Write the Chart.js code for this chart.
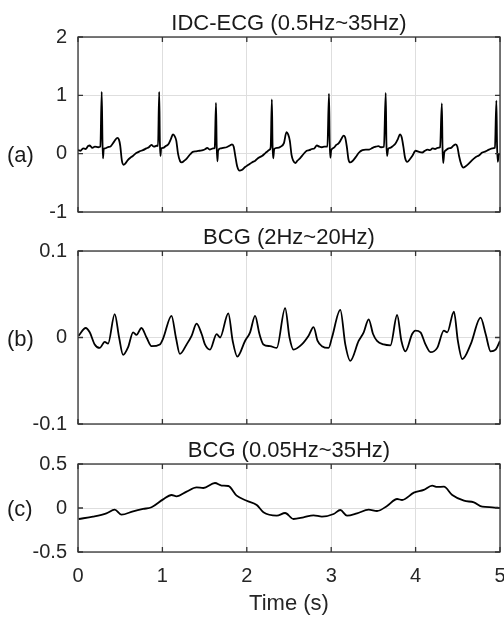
<!DOCTYPE html>
<html>
<head>
<meta charset="utf-8">
<script src="https://cdn.jsdelivr.net/npm/chart.js@4.4.1/dist/chart.umd.min.js"></script>
<style>
  body { margin: 0; background: #fff; }
  .panel { position: absolute; left: 0; top: 0; width: 504px; height: 621px; }
</style>
</head>
<body>
<div class="panel"><canvas id="ecg-chart"></canvas></div>
<div class="panel"><canvas id="bcg-chart"></canvas></div>
<div class="panel"><canvas id="bcg-low-chart"></canvas></div>
<script>
// x axis (seconds)
const timeTicks = [0, 1, 2, 3, 4, 5];

// (a) IDC-ECG 0.5-35 Hz
const ecgTicks = [-1, 0, 1, 2];
const ecgTime = [
    0.00, 0.03, 0.06, 0.09, 0.12, 0.14, 0.17, 0.20, 0.24, 0.265, 0.281, 0.29, 0.296, 0.305, 0.32, 0.35, 0.39, 0.43, 0.465, 0.485,
    0.50, 0.52, 0.54, 0.56, 0.59, 0.62, 0.65, 0.69, 0.73, 0.77, 0.81, 0.84, 0.87, 0.90, 0.94, 0.948, 0.962, 0.97, 0.977, 0.985,
    1.01, 1.04, 1.07, 1.10, 1.125, 1.145, 1.165, 1.185, 1.21, 1.23, 1.26, 1.29, 1.33, 1.36, 1.40, 1.44, 1.48, 1.51, 1.53, 1.56,
    1.60, 1.62, 1.635, 1.643, 1.652, 1.66, 1.69, 1.72, 1.76, 1.80, 1.825, 1.845, 1.865, 1.885, 1.915, 1.94, 1.98, 2.02, 2.06, 2.10,
    2.14, 2.18, 2.22, 2.25, 2.27, 2.283, 2.297, 2.305, 2.313, 2.325, 2.36, 2.40, 2.44, 2.47, 2.49, 2.51, 2.53, 2.55, 2.575, 2.60,
    2.63, 2.67, 2.71, 2.74, 2.77, 2.80, 2.83, 2.86, 2.89, 2.92, 2.955, 2.974, 2.982, 2.99, 3.00, 3.03, 3.06, 3.09, 3.12, 3.145,
    3.165, 3.185, 3.205, 3.225, 3.25, 3.29, 3.33, 3.37, 3.41, 3.45, 3.49, 3.53, 3.56, 3.59, 3.625, 3.646, 3.654, 3.662, 3.675, 3.70,
    3.73, 3.76, 3.79, 3.815, 3.835, 3.855, 3.875, 3.90, 3.93, 3.96, 4.00, 4.04, 4.08, 4.11, 4.14, 4.17, 4.20, 4.23, 4.26, 4.29,
    4.311, 4.319, 4.327, 4.34, 4.36, 4.39, 4.42, 4.45, 4.475, 4.495, 4.515, 4.54, 4.565, 4.59, 4.63, 4.67, 4.71, 4.75, 4.79, 4.83,
    4.87, 4.91, 4.94, 4.957, 4.965, 4.974, 4.985, 5.00
];
const ecgValue = [
    0.06, 0.05, 0.09, 0.08, 0.13, 0.14, 0.10, 0.12, 0.11, 0.12, 1.06, 0.20, -0.08, 0.08, 0.09, 0.11, 0.13, 0.21, 0.27, 0.24,
    0.14, -0.12, -0.19, -0.17, -0.11, -0.07, -0.04, 0.01, 0.04, 0.06, 0.09, 0.11, 0.15, 0.12, 0.14, 0.13, 1.06, 0.20, -0.04, 0.09,
    0.10, 0.13, 0.16, 0.25, 0.33, 0.30, 0.22, 0.00, -0.13, -0.15, -0.12, -0.08, -0.01, 0.03, 0.04, 0.05, 0.06, 0.08, 0.10, 0.07,
    0.09, 0.10, 0.87, 0.15, -0.13, 0.05, 0.09, 0.10, 0.11, 0.14, 0.16, 0.12, -0.05, -0.21, -0.29, -0.28, -0.23, -0.19, -0.15, -0.12,
    -0.07, -0.04, 0.01, 0.045, 0.07, 0.11, 0.93, 0.15, -0.08, 0.08, 0.10, 0.12, 0.18, 0.37, 0.33, 0.22, -0.02, -0.12, -0.16, -0.12,
    -0.08, -0.01, 0.05, 0.06, 0.08, 0.09, 0.14, 0.12, 0.11, 0.12, 0.12, 1.03, 0.20, -0.07, 0.06, 0.10, 0.15, 0.18, 0.25, 0.31,
    0.28, 0.12, -0.10, -0.15, -0.13, -0.06, 0.02, 0.06, 0.07, 0.07, 0.10, 0.12, 0.13, 0.11, 0.12, 1.04, 0.20, -0.04, 0.08, 0.10,
    0.13, 0.17, 0.25, 0.33, 0.28, 0.12, -0.07, -0.14, -0.10, -0.04, 0.05, 0.03, 0.02, 0.05, 0.07, 0.06, 0.09, 0.08, 0.10, 0.11,
    0.86, 0.10, -0.16, 0.02, 0.06, 0.09, 0.10, 0.14, 0.16, 0.12, -0.04, -0.18, -0.24, -0.22, -0.17, -0.11, -0.06, -0.03, 0.02, 0.04,
    0.07, 0.09, 0.10, 0.91, 0.15, -0.14, -0.02, 0.00
];

// (b) BCG 2-20 Hz
const bcgTicks = [-0.1, 0, 0.1];
const bcgTime = [
    0.008, 0.091, 0.139, 0.198, 0.257, 0.317, 0.356, 0.435, 0.487, 0.534, 0.594, 0.653, 0.693, 0.752, 0.812, 0.871, 0.970, 1.009, 1.108, 1.160,
    1.207, 1.287, 1.346, 1.405, 1.465, 1.504, 1.564, 1.643, 1.683, 1.781, 1.833, 1.888, 1.979, 2.039, 2.098, 2.150, 2.197, 2.276, 2.355, 2.454,
    2.506, 2.553, 2.652, 2.732, 2.791, 2.839, 2.890, 2.969, 3.009, 3.108, 3.167, 3.226, 3.325, 3.385, 3.444, 3.496, 3.543, 3.622, 3.702, 3.781,
    3.832, 3.880, 3.959, 3.998, 4.058, 4.117, 4.177, 4.256, 4.335, 4.375, 4.454, 4.501, 4.553, 4.652, 4.770, 4.830, 4.889, 4.948, 5.000
];
const bcgValue = [
    0.002, 0.011, 0.006, -0.008, -0.012, -0.005, -0.007, 0.027, 0.000, -0.020, -0.011, 0.006, 0.003, 0.011, 0.000, -0.010, -0.008, -0.001, 0.025, 0.000,
    -0.019, -0.008, 0.002, 0.016, 0.004, -0.008, -0.014, 0.004, 0.000, 0.028, -0.004, -0.022, -0.004, 0.006, 0.025, 0.004, -0.008, -0.010, -0.012, 0.034,
    0.000, -0.014, -0.008, 0.002, 0.012, -0.004, -0.010, -0.012, 0.000, 0.032, -0.008, -0.027, -0.004, 0.006, 0.021, 0.004, -0.004, -0.008, -0.009, 0.026,
    -0.004, -0.016, 0.004, 0.008, 0.006, -0.008, -0.017, -0.012, 0.008, 0.006, 0.030, -0.004, -0.025, -0.008, 0.023, 0.004, -0.016, -0.014, -0.004
];

// (c) BCG 0.05-35 Hz
const bcgLowTicks = [-0.5, 0, 0.5];
const bcgLowTime = [
    0.008, 0.178, 0.336, 0.435, 0.515, 0.653, 0.772, 0.871, 1.009, 1.108, 1.168, 1.287, 1.405, 1.485, 1.623, 1.702, 1.781, 1.880, 1.999, 2.118,
    2.197, 2.355, 2.454, 2.553, 2.672, 2.791, 2.890, 3.029, 3.108, 3.187, 3.306, 3.444, 3.543, 3.662, 3.781, 3.840, 3.979, 4.097, 4.196, 4.256,
    4.335, 4.434, 4.573, 4.691, 4.790, 4.909, 5.000
];
const bcgLowValue = [
    -0.125, -0.098, -0.061, -0.019, -0.076, -0.038, -0.011, 0.008, 0.098, 0.148, 0.133, 0.186, 0.235, 0.227, 0.284, 0.254, 0.250, 0.140, 0.083, 0.034,
    -0.049, -0.087, -0.057, -0.125, -0.106, -0.083, -0.098, -0.068, -0.023, -0.087, -0.061, -0.019, -0.034, 0.023, 0.102, 0.091, 0.174, 0.205, 0.254, 0.239,
    0.242, 0.148, 0.083, 0.064, 0.015, 0.008, 0.000
];

Chart.defaults.font.family = "'Liberation Sans', Arial, sans-serif";
Chart.defaults.color = '#262626';

// box round the plot, inward tick marks, panel title and (a)/(b)/(c) label
const framePlugin = {
    id: 'frame',
    afterDatasetsDraw(chart, args, opts) {
        const {ctx, chartArea: a, scales} = chart;
        ctx.save();
        ctx.strokeStyle = '#333';
        ctx.lineWidth = 1.3;
        ctx.beginPath();
        scales.x.ticks.forEach(t => {
            const px = scales.x.getPixelForValue(t.value);
            ctx.moveTo(px, a.top); ctx.lineTo(px, a.top + 5);
            ctx.moveTo(px, a.bottom); ctx.lineTo(px, a.bottom - 5);
        });
        scales.y.ticks.forEach(t => {
            const py = scales.y.getPixelForValue(t.value);
            ctx.moveTo(a.left, py); ctx.lineTo(a.left + 5, py);
            ctx.moveTo(a.right, py); ctx.lineTo(a.right - 5, py);
        });
        ctx.stroke();
        ctx.strokeRect(a.left, a.top, a.right - a.left, a.bottom - a.top);

        ctx.fillStyle = '#1a1a1a';
        ctx.font = "22px 'Liberation Sans', Arial, sans-serif";
        ctx.textAlign = 'center';
        ctx.textBaseline = 'alphabetic';
        ctx.fillText(opts.title, (a.left + a.right) / 2, a.top - 7);
        ctx.textAlign = 'left';
        ctx.textBaseline = 'middle';
        ctx.fillText(opts.label, 7, scales.y.getPixelForValue(0) + 2);
        ctx.restore();
    }
};

function panelConfig(times, values, yTicks, title, label, top, bottom, showTime) {
    const xHeight = showTime ? 65 : 0;
    return {
        type: 'line',
        data: {
            datasets: [{
                data: times.map((t, i) => ({x: t, y: values[i]})),
                borderColor: '#000',
                borderWidth: 1.8,
                pointRadius: 0,
                cubicInterpolationMode: 'monotone',
                fill: false
            }]
        },
        options: {
            responsive: true,
            maintainAspectRatio: false,
            animation: false,
            events: [],
            layout: {autoPadding: false, padding: {top: top, left: 0, right: 4, bottom: 621 - bottom - xHeight}},
            plugins: {
                legend: {display: false},
                tooltip: {enabled: false},
                frame: {title: title, label: label}
            },
            scales: {
                x: {
                    type: 'linear',
                    min: 0,
                    max: 5,
                    afterBuildTicks: s => { s.ticks = timeTicks.map(v => ({value: v})); },
                    afterFit: s => { s.height = xHeight; s.paddingLeft = 0; s.paddingRight = 0; },
                    border: {display: false},
                    grid: {color: '#dedede', lineWidth: 1, drawTicks: false},
                    ticks: {display: showTime, padding: 12, font: {size: 20}, maxRotation: 0},
                    title: {display: showTime, text: 'Time (s)', font: {size: 22}, padding: 0}
                },
                y: {
                    min: yTicks[0],
                    max: yTicks[yTicks.length - 1],
                    afterBuildTicks: s => { s.ticks = yTicks.map(v => ({value: v})); },
                    afterFit: s => { s.width = 78; s.paddingTop = 0; s.paddingBottom = 0; },
                    border: {display: false},
                    grid: {color: '#dedede', lineWidth: 1, drawTicks: false},
                    ticks: {padding: 11, font: {size: 20}, callback: v => String(v)}
                }
            }
        },
        plugins: [framePlugin]
    };
}

const ecg_chart = new Chart(document.getElementById('ecg-chart'),
    panelConfig(ecgTime, ecgValue, ecgTicks, 'IDC-ECG (0.5Hz~35Hz)', '(a)', 37, 212, false));
const bcg_chart = new Chart(document.getElementById('bcg-chart'),
    panelConfig(bcgTime, bcgValue, bcgTicks, 'BCG (2Hz~20Hz)', '(b)', 251, 424, false));
const bcg_low_chart = new Chart(document.getElementById('bcg-low-chart'),
    panelConfig(bcgLowTime, bcgLowValue, bcgLowTicks, 'BCG (0.05Hz~35Hz)', '(c)', 464, 552, true));
</script>
</body>
</html>
